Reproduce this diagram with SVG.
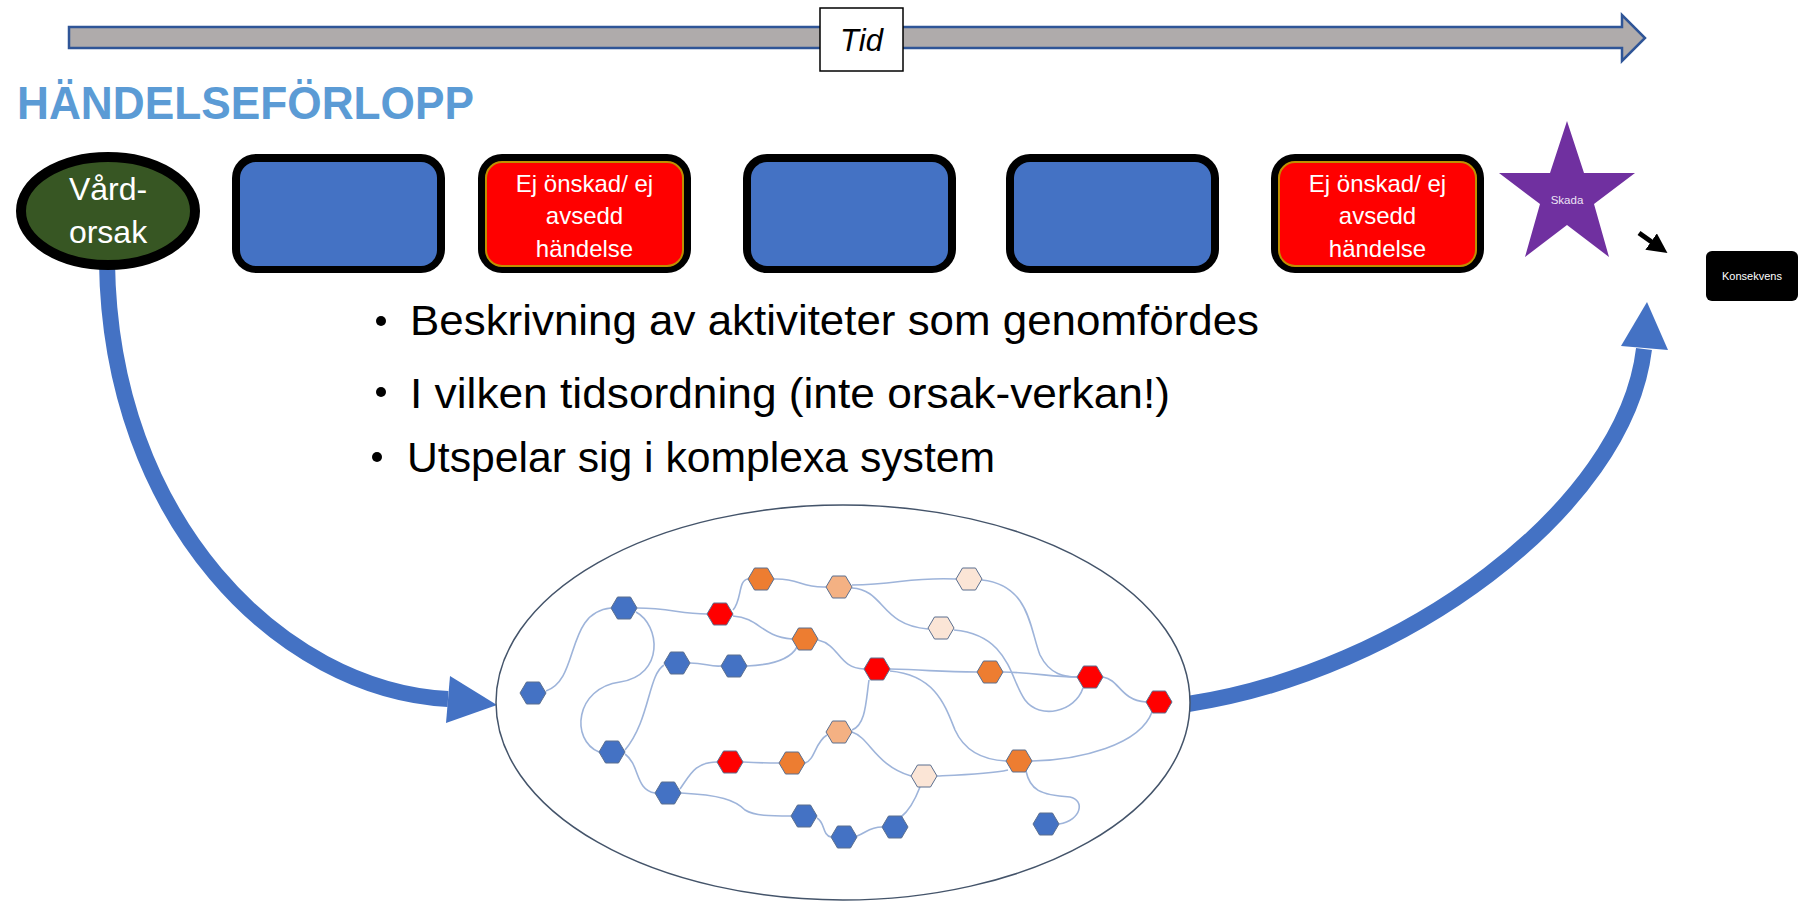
<svg xmlns="http://www.w3.org/2000/svg" width="1800" height="906" viewBox="0 0 1800 906">
  <style>
    .box-frame { fill: #000000; }
    .box-blue { fill: #4472C4; }
    .box-red { fill: #FF0000; stroke: #BF9000; stroke-width: 2; }
    .box-text { font-family: "Liberation Sans", Arial, sans-serif; font-size: 24px; fill: #FFFFFF; text-anchor: middle; }
    .bullet { font-family: "Liberation Sans", Arial, sans-serif; font-size: 43px; fill: #000000; }
    .flow { fill: none; stroke: #4472C4; stroke-width: 16; }
    .flow-head { fill: #4472C4; }
    .link { fill: none; stroke: #9EB4DA; stroke-width: 1.6; }
    .hex { stroke: #5B6F8F; stroke-width: 1; }
    .h-blue { fill: #4472C4; }
    .h-red { fill: #FF0000; }
    .h-orange { fill: #ED7D31; }
    .h-light { fill: #F4B183; }
    .h-pale { fill: #FBE5D6; }
  </style>
  <defs>
    <polygon id="hexagon" points="-13,0 -6.5,-11 6.5,-11 13,0 6.5,11 -6.5,11"/>
    <marker id="small-head" markerWidth="4" markerHeight="4" refX="1.2" refY="2" orient="auto" markerUnits="strokeWidth">
      <path d="M0,0 L4,2 L0,4 Z" fill="#000000"/>
    </marker>
  </defs>

  <rect width="1800" height="906" fill="#FFFFFF"/>

  <!-- time axis -->
  <g id="time-axis">
    <polygon points="69,27 1622,27 1622,15 1645,38 1622,61 1622,48 69,48" fill="#AFABAB" stroke="#2F5597" stroke-width="2.5"/>
    <rect x="820" y="8" width="83" height="63" fill="#FFFFFF" stroke="#000000" stroke-width="1.5"/>
    <text x="861.5" y="51" font-family="Liberation Sans, Arial, sans-serif" font-size="31" font-style="italic" text-anchor="middle">Tid</text>
  </g>

  <!-- title -->
  <text id="title" x="17" y="119" font-family="Liberation Sans, Arial, sans-serif" font-size="47" font-weight="bold" fill="#5B9BD5" textLength="457" lengthAdjust="spacingAndGlyphs">HÄNDELSEFÖRLOPP</text>

  <!-- big flow arrows -->
  <g id="connectors">
    <path class="flow" d="M107,262 C110,520 280,690 448,699"/>
    <polygon class="flow-head" points="450,676 497,705 446,723"/>
    <path class="flow" d="M1188,704 C1400,672 1625,510 1644,349"/>
    <polygon class="flow-head" points="1621,346 1647,302 1668,350"/>
    <line x1="1639" y1="233" x2="1656" y2="245" stroke="#000000" stroke-width="5" marker-end="url(#small-head)"/>
  </g>

  <!-- cause -->
  <g id="node-vardorsak">
    <ellipse cx="108" cy="211" rx="87" ry="54" fill="#375623" stroke="#000000" stroke-width="10"/>
    <text x="108" y="200" font-family="Liberation Sans, Arial, sans-serif" font-size="32" fill="#FFFFFF" text-anchor="middle">Vård-</text>
    <text x="108" y="243" font-family="Liberation Sans, Arial, sans-serif" font-size="32" fill="#FFFFFF" text-anchor="middle">orsak</text>
  </g>

  <!-- sequence of events -->
  <g id="node-step1">
    <rect class="box-frame" x="232" y="154" width="213" height="119" rx="24"/>
    <rect class="box-blue" x="240" y="162" width="197" height="104" rx="16"/>
  </g>
  <g id="node-event1">
    <rect class="box-frame" x="478" y="154" width="213" height="119" rx="24"/>
    <rect class="box-red" x="486" y="162" width="197" height="104" rx="16"/>
    <text class="box-text" x="584.5" y="192">Ej önskad/ ej</text>
    <text class="box-text" x="584.5" y="224">avsedd</text>
    <text class="box-text" x="584.5" y="257">händelse</text>
  </g>
  <g id="node-step2">
    <rect class="box-frame" x="743" y="154" width="213" height="119" rx="24"/>
    <rect class="box-blue" x="751" y="162" width="197" height="104" rx="16"/>
  </g>
  <g id="node-step3">
    <rect class="box-frame" x="1006" y="154" width="213" height="119" rx="24"/>
    <rect class="box-blue" x="1014" y="162" width="197" height="104" rx="16"/>
  </g>
  <g id="node-event2">
    <rect class="box-frame" x="1271" y="154" width="213" height="119" rx="24"/>
    <rect class="box-red" x="1279" y="162" width="197" height="104" rx="16"/>
    <text class="box-text" x="1377.5" y="192">Ej önskad/ ej</text>
    <text class="box-text" x="1377.5" y="224">avsedd</text>
    <text class="box-text" x="1377.5" y="257">händelse</text>
  </g>

  <!-- harm -->
  <g id="node-skada">
    <polygon points="1567,121 1584,173 1635,173 1594,204 1609,257 1567,225 1525,257 1540,204 1499,173 1550,173" fill="#7030A0"/>
    <text x="1567" y="204" font-family="Liberation Sans, Arial, sans-serif" font-size="11.5" fill="#EDE3F5" text-anchor="middle">Skada</text>
  </g>

  <!-- consequence -->
  <g id="node-konsekvens">
    <rect x="1706" y="251" width="92" height="50" rx="6" fill="#000000"/>
    <text x="1752" y="280" font-family="Liberation Sans, Arial, sans-serif" font-size="11" fill="#FFFFFF" text-anchor="middle">Konsekvens</text>
  </g>

  <!-- bullet list -->
  <g id="bullets">
    <circle cx="381" cy="321" r="5"/>
    <text class="bullet" x="410" y="335" textLength="849" lengthAdjust="spacingAndGlyphs">Beskrivning av aktiviteter som genomfördes</text>
    <circle cx="381" cy="392" r="5"/>
    <text class="bullet" x="410" y="408" textLength="760" lengthAdjust="spacingAndGlyphs">I vilken tidsordning (inte orsak-verkan!)</text>
    <circle cx="377" cy="457" r="5"/>
    <text class="bullet" x="407" y="472" textLength="588" lengthAdjust="spacingAndGlyphs">Utspelar sig i komplexa system</text>
  </g>

  <!-- complex system -->
  <g id="node-system">
    <ellipse cx="843" cy="702.5" rx="347" ry="197.5" fill="#FFFFFF" stroke="#44546A" stroke-width="1.5"/>
    <g id="system-links">
      <path class="link" d="M546,691 C580,680 565,612 611,608"/>
      <path class="link" d="M637,608 C670,608 680,614 707,614"/>
      <path class="link" d="M636,612 C660,625 665,675 620,682 C575,688 570,740 599,752"/>
      <path class="link" d="M733,610 C742,600 738,580 748,579"/>
      <path class="link" d="M733,616 C760,618 760,636 792,639"/>
      <path class="link" d="M774,579 C800,578 800,588 826,587"/>
      <path class="link" d="M852,585 C900,584 910,577 956,579"/>
      <path class="link" d="M852,588 C885,590 880,625 928,629"/>
      <path class="link" d="M982,580 C1030,585 1030,630 1040,655 C1050,675 1065,677 1077,677"/>
      <path class="link" d="M954,630 C1010,635 1010,680 1025,700 C1040,720 1075,712 1083,688"/>
      <path class="link" d="M818,640 C840,645 838,668 864,669"/>
      <path class="link" d="M797,647 C790,660 770,665 747,666"/>
      <path class="link" d="M690,663 C705,663 710,667 721,666"/>
      <path class="link" d="M664,665 C648,675 650,720 625,750"/>
      <path class="link" d="M890,669 C930,670 940,672 977,672"/>
      <path class="link" d="M1003,672 C1040,673 1050,677 1077,677"/>
      <path class="link" d="M1103,677 C1120,680 1120,700 1146,702"/>
      <path class="link" d="M869,680 C866,700 866,725 852,730"/>
      <path class="link" d="M890,671 C935,675 945,705 955,730 C965,752 985,760 1006,761"/>
      <path class="link" d="M1152,712 C1140,745 1080,760 1032,761"/>
      <path class="link" d="M827,735 C815,742 815,760 805,763"/>
      <path class="link" d="M743,762 C760,763 765,763 779,763"/>
      <path class="link" d="M680,789 C690,775 695,762 717,762"/>
      <path class="link" d="M625,754 C640,765 635,790 655,793"/>
      <path class="link" d="M681,793 C720,795 735,800 745,810 C755,816 770,816 791,816"/>
      <path class="link" d="M817,818 C825,822 822,835 831,837"/>
      <path class="link" d="M857,836 C867,832 870,827 882,827"/>
      <path class="link" d="M901,817 C910,810 915,800 920,787"/>
      <path class="link" d="M852,732 C870,738 875,765 911,776"/>
      <path class="link" d="M937,776 C960,775 990,774 1008,770"/>
      <path class="link" d="M1026,771 C1030,790 1040,795 1070,797 C1085,800 1082,820 1059,824"/>
    </g>
    <g id="system-hexagons">
      <use href="#hexagon" class="hex h-blue" x="533" y="693"/>
      <use href="#hexagon" class="hex h-blue" x="624" y="608"/>
      <use href="#hexagon" class="hex h-blue" x="677" y="663"/>
      <use href="#hexagon" class="hex h-blue" x="734" y="666"/>
      <use href="#hexagon" class="hex h-blue" x="612" y="752"/>
      <use href="#hexagon" class="hex h-blue" x="668" y="793"/>
      <use href="#hexagon" class="hex h-blue" x="804" y="816"/>
      <use href="#hexagon" class="hex h-blue" x="844" y="837"/>
      <use href="#hexagon" class="hex h-blue" x="895" y="827"/>
      <use href="#hexagon" class="hex h-blue" x="1046" y="824"/>
      <use href="#hexagon" class="hex h-red" x="720" y="614"/>
      <use href="#hexagon" class="hex h-red" x="877" y="669"/>
      <use href="#hexagon" class="hex h-red" x="1090" y="677"/>
      <use href="#hexagon" class="hex h-red" x="1159" y="702"/>
      <use href="#hexagon" class="hex h-red" x="730" y="762"/>
      <use href="#hexagon" class="hex h-orange" x="761" y="579"/>
      <use href="#hexagon" class="hex h-orange" x="805" y="639"/>
      <use href="#hexagon" class="hex h-orange" x="990" y="672"/>
      <use href="#hexagon" class="hex h-orange" x="792" y="763"/>
      <use href="#hexagon" class="hex h-orange" x="1019" y="761"/>
      <use href="#hexagon" class="hex h-light" x="839" y="587"/>
      <use href="#hexagon" class="hex h-light" x="839" y="732"/>
      <use href="#hexagon" class="hex h-pale" x="969" y="579"/>
      <use href="#hexagon" class="hex h-pale" x="941" y="628"/>
      <use href="#hexagon" class="hex h-pale" x="924" y="776"/>
    </g>
  </g>
</svg>
